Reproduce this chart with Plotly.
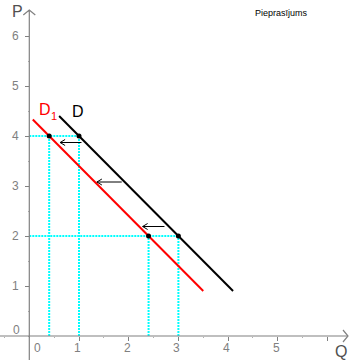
import plotly.graph_objects as go

# ---- data ----
D_q = [0.6, 4.1]
D_p = [4.4, 0.9]
D1_q = [0.07, 3.5]
D1_p = [4.33, 0.9]
pts_q = [0.4, 1.0, 2.4, 3.0]
pts_p = [4.0, 4.0, 2.0, 2.0]
# guide lines (dotted): horizontal at price levels, vertical at quantities
h_levels = [4.0, 2.0]
h_ends = [1.0, 3.0]
v_q = [0.4, 1.0, 2.4, 3.0]
v_top = [4.0, 4.0, 2.0, 2.0]
# shift arrows (tail -> head)
arr_tail_q = [1.05, 1.86, 2.72]
arr_head_q = [0.62, 1.36, 2.28]
arr_p = [3.87, 3.08, 2.19]
x_tick_labels = ["0", "1", "2", "3", "4", "5"]
y_tick_labels = ["0", "1", "2", "3", "4", "5", "6"]

W, H = 351, 360
ox, oy = 29.3, 336.0       # pixel position of origin
sx, sy = 49.7, 50.0        # pixels per unit
x_range = [-ox / sx, (W - ox) / sx]
y_range = [-(H - oy) / sy, oy / sy]

GRAY = "#808080"
CYAN = "#00ffff"
FONT = "Liberation Sans, Arial"

fig = go.Figure()

for lvl, end in zip(h_levels, h_ends):
    fig.add_trace(go.Scatter(x=[0, end], y=[lvl, lvl], mode="lines",
                             line=dict(color=CYAN, width=2, dash="2px,1px"),
                             hoverinfo="skip"))
for q, top in zip(v_q, v_top):
    fig.add_trace(go.Scatter(x=[q, q], y=[0, top], mode="lines",
                             line=dict(color=CYAN, width=2, dash="2px,1px"),
                             hoverinfo="skip"))

fig.add_trace(go.Scatter(x=D_q, y=D_p, mode="lines",
                         line=dict(color="black", width=2)))
fig.add_trace(go.Scatter(x=D1_q, y=D1_p, mode="lines",
                         line=dict(color="red", width=2)))
fig.add_trace(go.Scatter(x=pts_q, y=pts_p, mode="markers",
                         marker=dict(color="black", size=5)))

# shift arrows drawn as line + open chevron
hdx, hdy = 5 / sx, 3 / sy
for tq, hq, p in zip(arr_tail_q, arr_head_q, arr_p):
    fig.add_trace(go.Scatter(
        x=[tq, hq, None, hq + hdx, hq, hq + hdx],
        y=[p, p, None, p + hdy, p, p - hdy],
        mode="lines", line=dict(color="black", width=1), hoverinfo="skip"))

annotations = []
# tick labels
for lab in x_tick_labels:
    v = float(lab)
    annotations.append(dict(x=v, y=0, xref="x", yref="y", text=lab,
                            showarrow=False, xanchor="center", yanchor="middle",
                            xshift=8 if v == 0 else -1.5, yshift=-11.5,
                            font=dict(family=FONT, size=12, color=GRAY)))
for lab in y_tick_labels:
    v = float(lab)
    annotations.append(dict(x=0, y=v, xref="x", yref="y", text=lab,
                            showarrow=False, xanchor="right", yanchor="middle",
                            xshift=-7 if v == 0 else -8, yshift=6.5 if v == 0 else 0,
                            font=dict(family=FONT, size=12, color=GRAY)))

# axis titles and curve labels
annotations.append(dict(x=17 / W, y=1 - 11 / H, xref="paper", yref="paper", text="P",
                        showarrow=False, xanchor="center", yanchor="middle",
                        font=dict(family=FONT, size=16, color="#505050")))
annotations.append(dict(x=341 / W, y=1 - 351 / H, xref="paper", yref="paper", text="Q",
                        showarrow=False, xanchor="center", yanchor="middle",
                        font=dict(family=FONT, size=16, color="#505050")))
annotations.append(dict(x=(37 - ox) / sx, y=(oy - 109) / sy, xref="x", yref="y",
                        text="D", showarrow=False, xanchor="left", yanchor="middle",
                        font=dict(family=FONT, size=16, color="red")))
annotations.append(dict(x=(48.5 - ox) / sx, y=(oy - 116) / sy, xref="x", yref="y",
                        text="1", showarrow=False, xanchor="left", yanchor="middle",
                        font=dict(family=FONT, size=11, color="red")))
annotations.append(dict(x=(78 - ox) / sx, y=(oy - 111) / sy, xref="x", yref="y",
                        text="D", showarrow=False, xanchor="center", yanchor="middle",
                        font=dict(family=FONT, size=16, color="black")))
annotations.append(dict(x=253 / W, y=1 - 13.5 / H, xref="paper", yref="paper",
                        text="Pieprasījums", showarrow=False, xanchor="left", yanchor="middle",
                        font=dict(family=FONT, size=9, color="black")))

# axis lines with open arrow heads
x_end = (348 - ox) / sx
y_end = (oy - 10) / sy
hx, hy = 5 / sx, 6 / sy     # chevron size
shapes = [
    dict(type="line", x0=x_range[0], x1=x_end, y0=0, y1=0, xref="x", yref="y",
         line=dict(color=GRAY, width=1.2)),
    dict(type="line", x0=0, x1=0, y0=y_range[0], y1=y_end, xref="x", yref="y",
         line=dict(color=GRAY, width=1.2)),
    dict(type="path", xref="x", yref="y",
         path=f"M{x_end - hx},{hy} L{x_end},0 L{x_end - hx},{-hy}",
         line=dict(color=GRAY, width=1.2)),
    dict(type="path", xref="x", yref="y",
         path=f"M{-6 / sx},{y_end - 5 / sy} L0,{y_end} L{6 / sx},{y_end - 5 / sy}",
         line=dict(color=GRAY, width=1.2)),
]

fig.update_layout(
    width=W, height=H, margin=dict(l=0, r=0, t=0, b=0),
    plot_bgcolor="white", paper_bgcolor="white", showlegend=False,
    annotations=annotations, shapes=shapes,
    xaxis=dict(range=x_range, anchor="free", position=(H - oy) / H,
               showgrid=False, zeroline=False, showline=False,
               tickvals=[1, 2, 3, 4, 5, 6], ticks="outside", ticklen=4,
               tickcolor=GRAY, tickwidth=1, showticklabels=False,
               minor=dict(dtick=0.5, tick0=0, ticks="outside", ticklen=1,
                          tickcolor="#b0b0b0"),
               fixedrange=True),
    yaxis=dict(range=y_range, anchor="free", position=ox / W,
               showgrid=False, zeroline=False, showline=False,
               tickvals=[1, 2, 3, 4, 5, 6], ticks="outside", ticklen=4,
               tickcolor=GRAY, tickwidth=1, showticklabels=False,
               minor=dict(dtick=0.5, tick0=0, ticks="outside", ticklen=1,
                          tickcolor="#b0b0b0"),
               fixedrange=True),
)

fig.write_html("out.html", config={"displayModeBar": False})
